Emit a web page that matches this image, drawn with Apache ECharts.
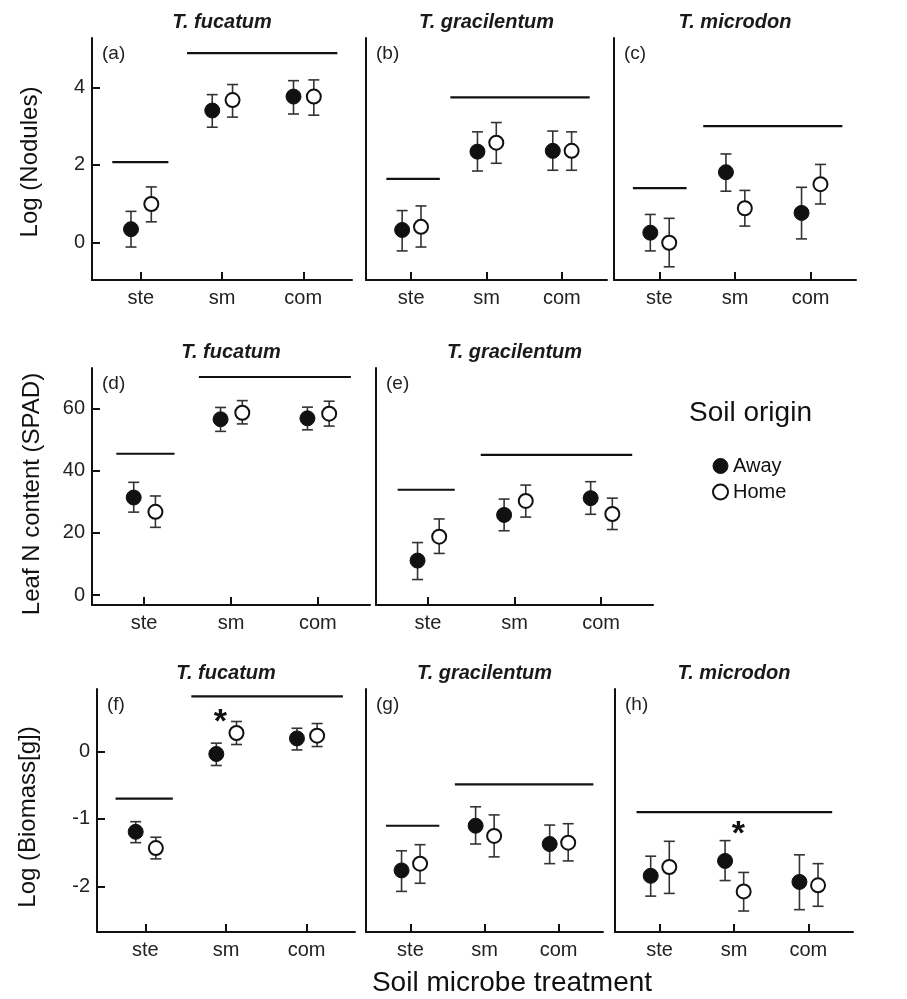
<!DOCTYPE html>
<html>
<head>
<meta charset="utf-8">
<script src="https://cdn.jsdelivr.net/npm/echarts@6/dist/echarts.min.js"></script>
<style>
  html, body { margin: 0; background: #fff; }
  #chart { width: 907px; height: 999px; }
</style>
</head>
<body>
<div id="chart"></div>
<script>
// ── data: [mean, lower, upper] per treatment ──
const treatments = ['ste', 'sm', 'com'];
const treatmentPos = [1, 2, 3];
const dodge = [-0.12, 0.13]; // away, home

// (a) T. fucatum – nodules
const aAway = [[0.34, -0.12, 0.80], [3.40, 2.97, 3.81], [3.76, 3.31, 4.17]];
const aHome = [[0.99, 0.53, 1.43], [3.67, 3.23, 4.07], [3.76, 3.28, 4.19]];
const aBars = [[0.65, 1.34, 2.07], [1.57, 3.42, 4.88]];
// (b) T. gracilentum – nodules
const bAway = [[0.32, -0.22, 0.82], [2.34, 1.84, 2.85], [2.36, 1.86, 2.87]];
const bHome = [[0.40, -0.12, 0.94], [2.57, 2.04, 3.09], [2.36, 1.86, 2.85]];
const bBars = [[0.67, 1.38, 1.64], [1.52, 3.37, 3.74]];
// (c) T. microdon – nodules
const cAway = [[0.25, -0.22, 0.72], [1.81, 1.32, 2.28], [0.76, 0.09, 1.42]];
const cHome = [[-0.01, -0.63, 0.62], [0.88, 0.42, 1.34], [1.50, 0.99, 2.01]];
const cBars = [[0.65, 1.36, 1.40], [1.58, 3.42, 3.00]];
// (d) T. fucatum – SPAD
const dAway = [[31.4, 26.7, 36.3], [56.6, 52.7, 60.4], [56.9, 53.2, 60.5]];
const dHome = [[26.8, 21.8, 31.9], [58.7, 55.1, 62.6], [58.4, 54.4, 62.4]];
const dBars = [[0.68, 1.35, 45.5], [1.63, 3.38, 70.2]];
// (e) T. gracilentum – SPAD
const eAway = [[11.1, 5.0, 16.9], [25.8, 20.7, 30.9], [31.2, 26.0, 36.5]];
const eHome = [[18.8, 13.4, 24.5], [30.3, 25.1, 35.4], [26.1, 21.1, 31.2]];
const eBars = [[0.65, 1.31, 33.9], [1.61, 3.36, 45.1]];
// (f) T. fucatum – biomass
const fAway = [[-1.19, -1.35, -1.04], [-0.04, -0.21, 0.12], [0.19, 0.02, 0.34]];
const fHome = [[-1.43, -1.59, -1.27], [0.27, 0.10, 0.44], [0.23, 0.07, 0.41]];
const fBars = [[0.63, 1.34, -0.70], [1.57, 3.45, 0.81]];
const fStars = [[1.93, 0.54]];
// (g) T. gracilentum – biomass
const gAway = [[-1.76, -2.07, -1.47], [-1.10, -1.37, -0.82], [-1.37, -1.66, -1.09]];
const gHome = [[-1.66, -1.95, -1.38], [-1.25, -1.56, -0.94], [-1.35, -1.62, -1.07]];
const gBars = [[0.67, 1.39, -1.10], [1.60, 3.47, -0.49]];
// (h) T. microdon – biomass
const hAway = [[-1.84, -2.14, -1.55], [-1.62, -1.91, -1.32], [-1.93, -2.34, -1.53]];
const hHome = [[-1.71, -2.10, -1.33], [-2.07, -2.36, -1.79], [-1.98, -2.29, -1.66]];
const hBars = [[0.69, 3.32, -0.90]];
const hStars = [[2.06, -1.11]];

// axis ranges / ticks per row
const nodRange = [-0.97, 5.27];
const nodTicks = [0, 2, 4];
const spadRange = [-3.2, 73.1];
const spadTicks = [0, 20, 40, 60];
const bioRange = [-2.67, 0.92];
const bioTicks = [-2, -1, 0];

const FONT = '"Liberation Sans", Arial, sans-serif';
const INK = '#111';

// box = [left, top, width, height]
const panels = [
  { away: aAway, home: aHome, bars: aBars, stars: [], range: nodRange, ticks: nodTicks, box: [92, 38, 260, 242], title: 'T. fucatum', tag: '(a)', yLabels: true },
  { away: bAway, home: bHome, bars: bBars, stars: [], range: nodRange, ticks: nodTicks, box: [366, 38, 241, 242], title: 'T. gracilentum', tag: '(b)' },
  { away: cAway, home: cHome, bars: cBars, stars: [], range: nodRange, ticks: nodTicks, box: [614, 38, 242, 242], title: 'T. microdon', tag: '(c)' },
  { away: dAway, home: dHome, bars: dBars, stars: [], range: spadRange, ticks: spadTicks, box: [92, 368, 278, 237], title: 'T. fucatum', tag: '(d)', yLabels: true },
  { away: eAway, home: eHome, bars: eBars, stars: [], range: spadRange, ticks: spadTicks, box: [376, 368, 277, 237], title: 'T. gracilentum', tag: '(e)' },
  { away: fAway, home: fHome, bars: fBars, stars: fStars, range: bioRange, ticks: bioTicks, box: [97, 689, 258, 243], title: 'T. fucatum', tag: '(f)', yLabels: true },
  { away: gAway, home: gHome, bars: gBars, stars: [], range: bioRange, ticks: bioTicks, box: [366, 689, 237, 243], title: 'T. gracilentum', tag: '(g)' },
  { away: hAway, home: hHome, bars: hBars, stars: hStars, range: bioRange, ticks: bioTicks, box: [615, 689, 238, 243], title: 'T. microdon', tag: '(h)' },
];

function errorBars(params, api) {
  const x = api.value(0);
  const lo = api.coord([x, api.value(1)]);
  const hi = api.coord([x, api.value(2)]);
  const w = 5.5;
  const style = { stroke: '#333', lineWidth: 1.6 };
  return {
    type: 'group',
    children: [
      { type: 'line', shape: { x1: hi[0], y1: hi[1], x2: lo[0], y2: lo[1] }, style },
      { type: 'line', shape: { x1: hi[0] - w, y1: hi[1], x2: hi[0] + w, y2: hi[1] }, style },
      { type: 'line', shape: { x1: lo[0] - w, y1: lo[1], x2: lo[0] + w, y2: lo[1] }, style },
    ],
  };
}

const grid = [], xAxis = [], yAxis = [], series = [], graphic = [];
const awayStyle = { color: INK, borderColor: INK, borderWidth: 1, opacity: 1 };
const homeStyle = { color: '#fff', borderColor: INK, borderWidth: 2, opacity: 1 };

panels.forEach((p, i) => {
  const [left, top, width, height] = p.box;
  grid.push({ left, top, width, height });

  xAxis.push({
    type: 'value', gridIndex: i, min: 0.4, max: 3.6,
    axisLine: { onZero: false, lineStyle: { color: INK, width: 2 } },
    axisTick: { inside: true, length: 8, customValues: treatmentPos, lineStyle: { color: INK, width: 2 } },
    axisLabel: { customValues: treatmentPos, formatter: v => treatments[Math.round(v) - 1], fontSize: 20, color: '#222', margin: 8, fontFamily: FONT },
    splitLine: { show: false },
  });
  yAxis.push({
    type: 'value', gridIndex: i, min: p.range[0], max: p.range[1],
    axisLine: { show: true, onZero: false, lineStyle: { color: INK, width: 2 } },
    axisTick: { show: !!p.yLabels, inside: true, length: 8, customValues: p.ticks, lineStyle: { color: INK, width: 2 } },
    axisLabel: { show: !!p.yLabels, customValues: p.ticks, fontSize: 20, color: '#222', margin: 7, fontFamily: FONT },
    splitLine: { show: false },
  });

  const pts = (rows, k) => rows.map((r, j) => [treatmentPos[j] + dodge[k], r[0]]);
  const errs = (rows, k) => rows.map((r, j) => [treatmentPos[j] + dodge[k], r[1], r[2]]);

  [[p.away, 0], [p.home, 1]].forEach(([rows, k]) => {
    series.push({
      type: 'custom', xAxisIndex: i, yAxisIndex: i, z: 1, silent: true,
      renderItem: errorBars, encode: { x: 0, y: [1, 2] }, data: errs(rows, k),
    });
  });
  series.push({
    name: 'Away', type: 'scatter', xAxisIndex: i, yAxisIndex: i, z: 3,
    symbol: 'circle', symbolSize: 15, itemStyle: awayStyle, data: pts(p.away, 0),
  });
  series.push({
    name: 'Home', type: 'scatter', xAxisIndex: i, yAxisIndex: i, z: 3,
    symbol: 'circle', symbolSize: 14, itemStyle: homeStyle, data: pts(p.home, 1),
  });
  p.bars.forEach(b => {
    series.push({
      type: 'line', xAxisIndex: i, yAxisIndex: i, silent: true, showSymbol: false,
      lineStyle: { color: INK, width: 2.2 }, data: [[b[0], b[2]], [b[1], b[2]]],
    });
  });
  if (p.stars.length) {
    series.push({
      type: 'scatter', xAxisIndex: i, yAxisIndex: i, symbolSize: 1, silent: true,
      itemStyle: { color: 'rgba(0,0,0,0)', opacity: 1 }, data: p.stars,
      label: { show: true, position: 'inside', formatter: '*', fontSize: 34, fontWeight: 'bold', color: INK, opacity: 1, fontFamily: FONT, offset: [0, 8] },
    });
  }

  graphic.push({
    type: 'text', x: left + width / 2, y: top - 16,
    style: { text: p.title, fontSize: 20, fontStyle: 'italic', fontWeight: 'bold', fill: '#1a1a1a', fontFamily: FONT, textAlign: 'center', textVerticalAlign: 'middle' },
  });
  graphic.push({
    type: 'text', x: left + 10, y: top + 16,
    style: { text: p.tag, fontSize: 19, fill: '#222', fontFamily: FONT, textAlign: 'left', textVerticalAlign: 'middle' },
  });
});

const yNames = [['Log (Nodules)', 30, 162], ['Leaf N content (SPAD)', 32, 494], ['Log (Biomass[g])', 28, 817]];
yNames.forEach(([text, x, y]) => {
  graphic.push({
    type: 'text', x, y, rotation: Math.PI / 2,
    style: { text, fontSize: 24, fill: '#111', fontFamily: FONT, textAlign: 'center', textVerticalAlign: 'middle' },
  });
});
graphic.push({
  type: 'text', x: 512, y: 983,
  style: { text: 'Soil microbe treatment', fontSize: 28, fill: '#111', fontFamily: FONT, textAlign: 'center', textVerticalAlign: 'middle' },
});
graphic.push({
  type: 'text', x: 689, y: 413,
  style: { text: 'Soil origin', fontSize: 28, fill: '#111', fontFamily: FONT, textAlign: 'left', textVerticalAlign: 'middle' },
});

const chart = echarts.init(document.getElementById('chart'));
chart.setOption({
  backgroundColor: '#fff',
  animation: false,
  grid, xAxis, yAxis, series, graphic,
  legend: {
    orient: 'vertical', left: 707, top: 451, itemWidth: 15, itemHeight: 15, itemGap: 6,
    selectedMode: false,
    textStyle: { fontSize: 20, color: '#111', fontFamily: FONT },
    data: [
      { name: 'Away', icon: 'circle', itemStyle: awayStyle },
      { name: 'Home', icon: 'circle', itemStyle: homeStyle },
    ],
  },
});
</script>
</body>
</html>
